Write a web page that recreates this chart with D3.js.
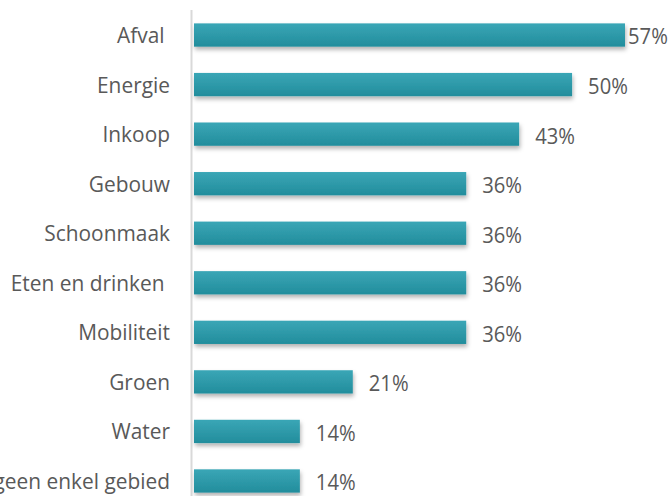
<!DOCTYPE html>
<html>
<head>
<meta charset="utf-8">
<script src="https://cdn.jsdelivr.net/npm/d3@7"></script>
<style>
  body { margin: 0; background: #fff; }
  svg { display: block; }
  text { font-family: "Open Sans", sans-serif; fill: #595959; white-space: pre; }
</style>
</head>
<body>
<div id="chart"></div>
<script>
var categories = ["Afval ", "Energie", "Inkoop", "Gebouw", "Schoonmaak", "Eten en drinken ", "Mobiliteit", "Groen", "Water", "Op geen enkel gebied"];
var values = [57, 50, 43, 36, 36, 36, 36, 21, 14, 14];

var width = 670, height = 496;
var left = 194;
// text looks a bit narrower than Open Sans
var catSqueeze = 0.95, valSqueeze = 0.92;

var svg = d3.select("#chart").append("svg").attr("width", width).attr("height", height);

var defs = svg.append("defs");
var grad = defs.append("linearGradient").attr("id", "barGrad").attr("x1", 0).attr("y1", 0).attr("x2", 0).attr("y2", 1);
grad.append("stop").attr("offset", "0%").attr("stop-color", "#3aa6b6");
grad.append("stop").attr("offset", "100%").attr("stop-color", "#228d9c");

var shadow = defs.append("filter").attr("id", "shadow").attr("x", "-5%").attr("y", "-30%").attr("width", "115%").attr("height", "190%");
shadow.append("feDropShadow").attr("dx", 1).attr("dy", 3).attr("stdDeviation", 2).attr("flood-color", "#000").attr("flood-opacity", 0.3);

var x = d3.scaleLinear().domain([0, 57]).range([left, 625]);
var y = d3.scaleBand().domain(categories).range([10, 506]).paddingInner(0.53).paddingOuter(0.27);

// axis line
svg.append("line").attr("x1", 191.5).attr("x2", 191.5).attr("y1", 10).attr("y2", height)
  .attr("stroke", "#d9d9d9").attr("stroke-width", 2);

svg.selectAll("rect.bar").data(values).enter().append("rect")
  .attr("class", "bar")
  .attr("x", x(0))
  .attr("y", function(d, i) { return y(categories[i]); })
  .attr("width", function(d) { return x(d) - x(0); })
  .attr("height", y.bandwidth())
  .attr("fill", "url(#barGrad)")
  .attr("filter", "url(#shadow)");

svg.selectAll("text.cat").data(categories).enter().append("text")
  .attr("class", "cat")
  .attr("transform", function(d) {
    return "translate(170," + (y(d) + y.bandwidth() / 2) + ") scale(" + catSqueeze + ",1)";
  })
  .attr("dy", "0.36em")
  .attr("text-anchor", "end")
  .attr("font-size", 22)
  .text(function(d) { return d; });

svg.selectAll("text.val").data(values).enter().append("text")
  .attr("class", "val")
  .attr("transform", function(d, i) {
    var tx = x(d) + (d === 57 ? 3 : 16);
    var ty = y(categories[i]) + y.bandwidth() / 2 + 1.5;
    return "translate(" + tx + "," + ty + ") scale(" + valSqueeze + ",1)";
  })
  .attr("dy", "0.36em")
  .attr("font-size", 22)
  .text(function(d) { return d + "%"; });
</script>
</body>
</html>
